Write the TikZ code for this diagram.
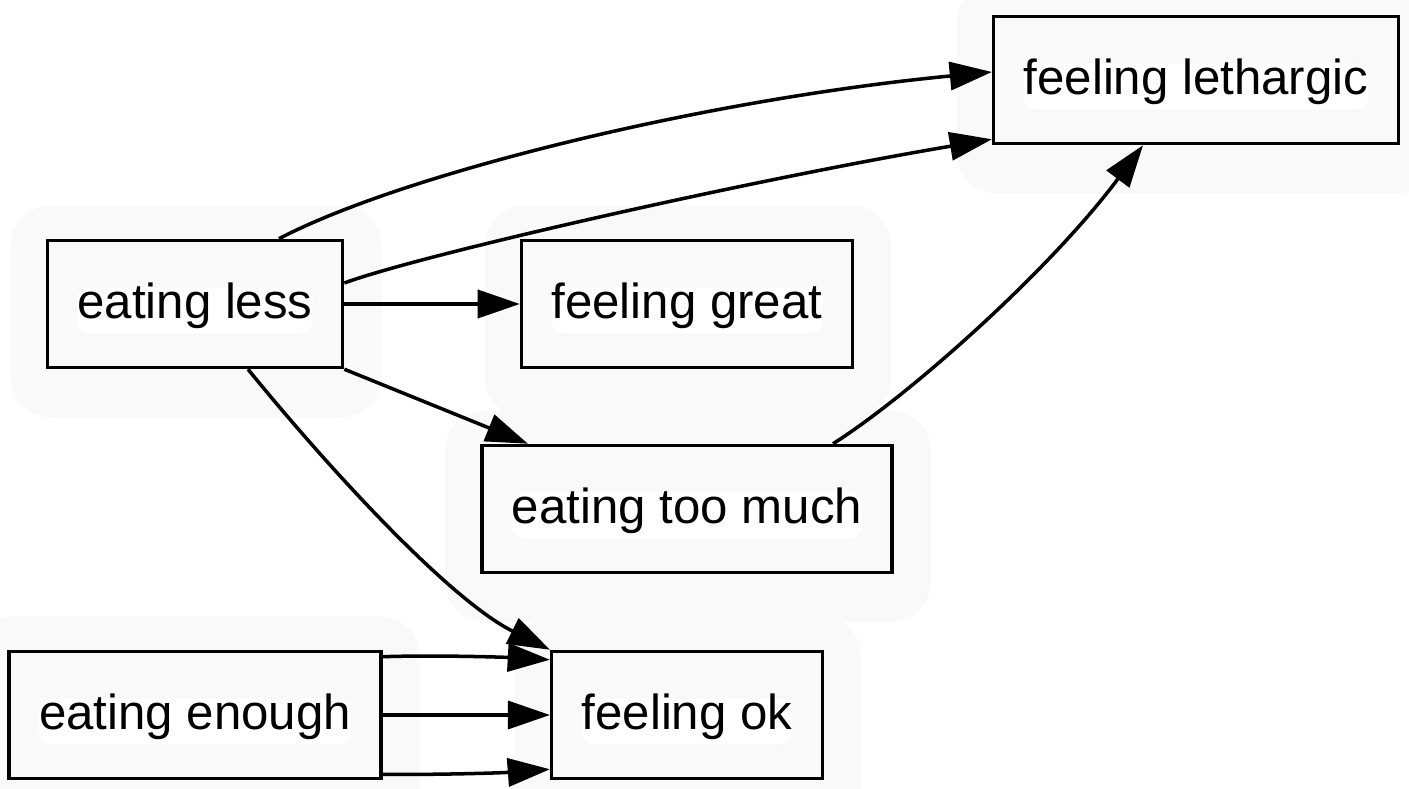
\documentclass[tikz,border=0pt]{standalone}
\usepackage{fontspec}
\setmainfont{Liberation Sans}
\usetikzlibrary{arrows.meta, backgrounds}
\definecolor{halo}{RGB}{249,249,249}

\begin{document}
\begin{tikzpicture}[line width=1pt, >={Triangle[length=12pt, width=8pt]},
  state/.style={draw, fill=halo, inner xsep=0.3cm, minimum height=1.27cm,
    text height=11pt, text depth=3pt, font=\fontsize{14}{17}\selectfont,
    path picture={\fill [white, rounded corners=0.12cm] ([shift={(0.3,-0.47)}]path picture bounding box.north west) rectangle ([shift={(-0.3,0.34)}]path picture bounding box.south east);}}]
\useasboundingbox (0, 0) rectangle (14.09, 7.88);
\node [state] (less) at (1.95, 4.84) {eating less};
\node [state] (great) at (6.87, 4.84) {feeling great};
\node [state] (leth) at (11.96, 7.08) {feeling lethargic};
\node [state] (much) at (6.87, 2.79) {eating too much};
\node [state] (enough) at (1.95, 0.73) {eating enough};
\node [state] (ok) at (6.87, 0.73) {feeling ok};
\begin{scope}[on background layer]
\foreach \n in {less, great, leth, much, enough, ok}{\fill [halo, rounded corners=0.4cm] ([shift={(-0.35,0.33)}]\n.north west) rectangle ([shift={(0.37,-0.48)}]\n.south east);}
\end{scope}
\draw [->] ([xshift=0.84cm]less.north) .. controls (4.0, 6.13) and (7.0, 6.88) .. ([yshift=0.08cm]leth.west);
\draw [->] ([yshift=0.21cm]less.east) .. controls (4.2, 5.33) and (7.5, 6.08) .. ([yshift=0.06cm]leth.south west);
\draw [->] (less.east) -- (great.west);
\draw [->] (less.south east) -- ([xshift=-1.59cm]much.north);
\draw [->] ([xshift=0.53cm]less.south) .. controls (3.3, 3.18) and (4.5, 1.88) .. (ok.north west);
\draw [->] ([xshift=1.46cm]much.north) .. controls (9.1, 3.93) and (10.5, 5.18) .. ([xshift=-0.53cm]leth.south);
\draw [->] ([yshift=-0.07cm]enough.north east) .. controls (4.3, 1.33) and (5.0, 1.31) .. ([yshift=-0.1cm]ok.north west);
\draw [->] (enough.east) -- (ok.west);
\draw [->] ([yshift=0.06cm]enough.south east) .. controls (4.3, 0.13) and (5.0, 0.15) .. ([yshift=0.11cm]ok.south west);
\end{tikzpicture}
\end{document}
